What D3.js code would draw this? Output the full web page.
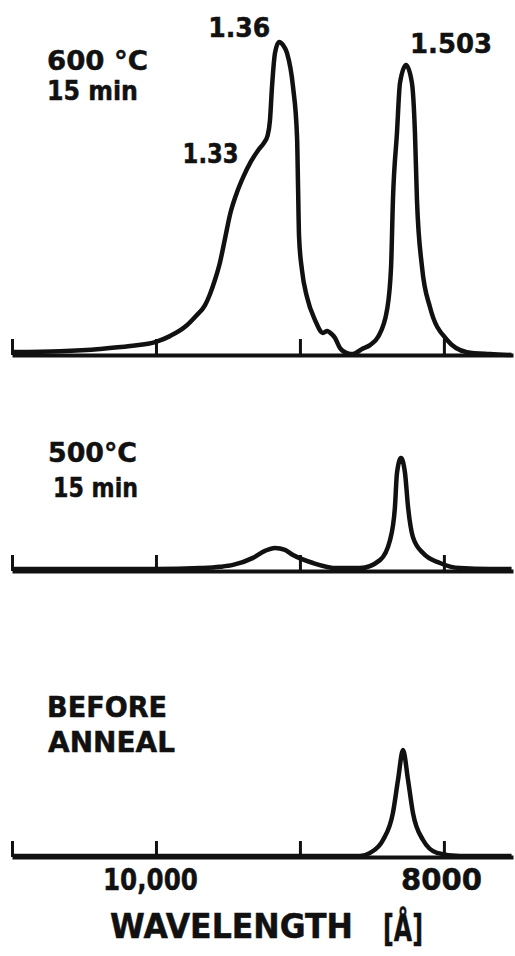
<!DOCTYPE html>
<html>
<head>
<meta charset="utf-8">
<script src="https://cdn.jsdelivr.net/npm/d3@7"></script>
<style>
  body { margin: 0; background: #fff; }
  text { font-family: "DejaVu Sans", sans-serif; font-weight: bold; fill: #111; stroke: #111; stroke-width: 0.5; }
</style>
</head>
<body>
<svg id="chart" width="515" height="956"></svg>
<script>
// wavelength ticks (angstrom) and their labels (only shown on the bottom panel)
const wavelengthTicks = [11000, 10000, 9000, 8000];
const tickLabels = ['', '10,000', '', '8000'];

// 600 C, 15 min
const wl600 = [10990, 10667, 10389, 10180, 10000, 9903, 9798, 9722, 9660, 9625, 9590, 9555, 9520, 9485,
  9440, 9395, 9340, 9290, 9250, 9225, 9208, 9194, 9173, 9145, 9118, 9090, 9048, 9020, 9013, 9006,
  8986, 8951, 8895, 8840, 8810, 8791, 8756, 8722, 8673, 8631, 8569, 8513, 8458, 8395, 8367, 8354,
  8326, 8305, 8263, 8222, 8201, 8187, 8152, 8097, 7978, 7840, 7680, 7530];
const int600 = [0.9, 1.2, 1.9, 2.8, 4.1, 5.9, 8.8, 12.2, 15.5, 19, 23.5, 29, 36.5, 44,
  50.5, 55.5, 60.5, 64, 66.3, 68.5, 73.4, 83.8, 94.4, 97.8, 96.9, 94.4, 83.8, 68.1, 52.5, 36.9,
  26.6, 18.1, 10.9, 6.9, 7.5, 7.0, 5.3, 2.2, 0.6, 0.3, 1.9, 3.1, 5.6, 14.1, 27.5, 48.4,
  69.4, 85, 90.6, 85, 69.4, 48.4, 27.5, 15, 4.7, 0.9, 0.3, 0];

// 500 C, 15 min
const wl500 = [10990, 10389, 10000, 9694, 9555, 9465, 9326, 9243, 9173, 9104, 9048, 8909, 8743, 8583,
  8444, 8374, 8340, 8326, 8298, 8270, 8249, 8215, 8145, 8027, 7888, 7680, 7530];
const int500 = [0.6, 0.6, 0.6, 0.9, 1.3, 1.9, 4.1, 6.3, 7.2, 6.6, 5, 2.5, 0.9, 0.9,
  3.4, 9.7, 20, 30.6, 35.3, 30.6, 20, 10.6, 5.6, 2.5, 0.9, 0.6, 0.6];

// before anneal
const wlBefore = [10990, 9500, 8650, 8583, 8513, 8423, 8354, 8319, 8284, 8249, 8215, 8145, 8048, 7888, 7530];
const intBefore = [0.3, 0.3, 0.3, 0.3, 1.3, 5.3, 13.8, 24, 33.4, 24, 13.8, 5.3, 1.3, 0.3, 0.3];

const panelTitles = [['600 °C', '15 min'], ['500°C', '15 min'], ['BEFORE', 'ANNEAL']];
const peakEnergies = [1.36, 1.33, 1.503]; // eV, labels on top panel
const axisTitle = 'WAVELENGTH';
const axisUnit = '[Å]';

const svg = d3.select('#chart');
const ink = '#111';

const x = d3.scaleLinear().domain([11000, 7520]).range([12, 513]);

const panels = [
  { wl: wl600, val: int600, base: 355 },
  { wl: wl500, val: int500, base: 571 },
  { wl: wlBefore, val: intBefore, base: 857 }
];

// label layout: [x, baseline, width, size]
const titleLayout = [
  [[47, 70, 101, 27], [47, 100, 91, 27]],
  [[48, 462, 89, 26], [53, 497, 85, 27]],
  [[47, 717, 120, 29], [48, 752, 127, 29]]
];

const addText = (g, str, px, py, len, size) => g.append('text')
  .attr('x', px).attr('y', py)
  .attr('font-size', size)
  .attr('textLength', len)
  .attr('lengthAdjust', 'spacingAndGlyphs')
  .text(str);

panels.forEach((p, pi) => {
  const y = d3.scaleLinear().domain([0, 100]).range([p.base, p.base - 320]);

  const axis = d3.axisBottom(x)
    .tickValues(wavelengthTicks)
    .tickSizeInner(-16)
    .tickSizeOuter(0)
    .tickFormat((d, i) => (pi === 2 ? tickLabels[i] : ''));

  const ag = svg.append('g')
    .attr('transform', `translate(0, ${p.base})`)
    .call(axis);

  ag.select('.domain').attr('stroke', ink).attr('stroke-width', 4);
  ag.selectAll('.tick line').attr('stroke', ink).attr('stroke-width', 3);
  ag.selectAll('.tick text')
    .attr('y', 33)
    .attr('dy', 0)
    .attr('font-size', 30)
    .attr('font-family', '"DejaVu Sans", sans-serif')
    .attr('font-weight', 'bold')
    .attr('fill', ink)
    .attr('stroke', ink)
    .attr('stroke-width', 0.5)
    .attr('dx', (d) => (d === 10000 ? -6 : -3))
    .attr('textLength', (d) => (d === 10000 ? 95 : 81))
    .attr('lengthAdjust', 'spacingAndGlyphs');

  const line = d3.line()
    .x((d) => x(d[0]))
    .y((d) => y(d[1]))
    .curve(d3.curveMonotoneX);

  svg.append('path')
    .datum(d3.zip(p.wl, p.val))
    .attr('fill', 'none')
    .attr('stroke', ink)
    .attr('stroke-width', 4.5)
    .attr('stroke-linejoin', 'round')
    .attr('d', line);

  panelTitles[pi].forEach((t, ti) => {
    const [lx, ly, len, size] = titleLayout[pi][ti];
    addText(svg, t, lx, ly, len, size);
  });
});

// peak energy labels on the top panel
const peakLayout = [[-44, 37, 62, 26], [-43, 163, 56, 27], [43, 53, 82, 27]];
peakEnergies.forEach((e, i) => {
  const [dx, ly, len, size] = peakLayout[i];
  const cx = x(12398 / e) + dx;
  addText(svg, String(e), cx - len / 2, ly, len, size);
});

addText(svg, axisTitle, 110, 938, 243, 34);
addText(svg, axisUnit, 383, 941, 40, 38);
</script>
</body>
</html>
